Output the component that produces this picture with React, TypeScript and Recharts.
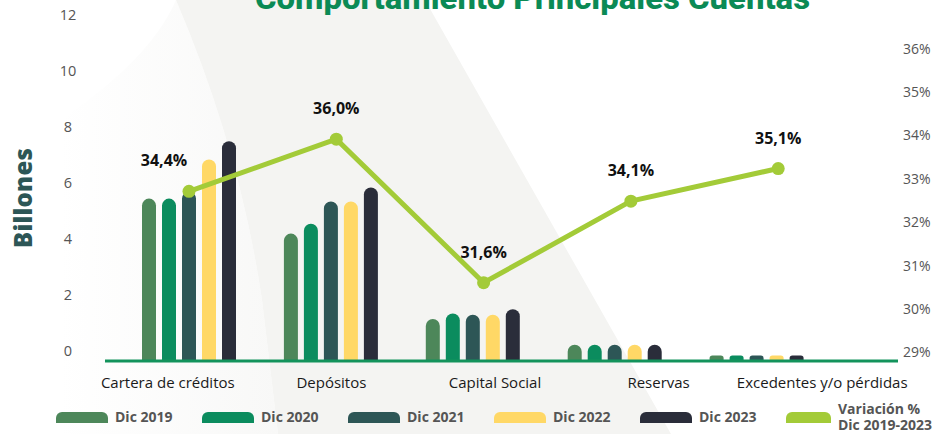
import React from "react";
import { ComposedChart, Bar, Line, XAxis, YAxis, ReferenceLine } from "recharts";

// valores en billones
const categories = ["Cartera de créditos", "Depósitos", "Capital Social", "Reservas", "Excedentes y/o pérdidas"];
const dic2019 = [5.8, 4.55, 1.5, 0.58, 0.2];
const dic2020 = [5.8, 4.9, 1.7, 0.58, 0.2];
const dic2021 = [6.05, 5.7, 1.65, 0.58, 0.2];
const dic2022 = [7.2, 5.7, 1.65, 0.58, 0.2];
const dic2023 = [7.85, 6.2, 1.85, 0.58, 0.2];
const variacion = [34.4, 36.0, 31.6, 34.1, 35.1];
const leftTicks = [0, 2, 4, 6, 8, 10, 12];
const rightTicks = [29, 30, 31, 32, 33, 34, 35, 36];

const SERIES = [
  { key: "d2019", name: "Dic 2019", color: "#4d875a", values: dic2019 },
  { key: "d2020", name: "Dic 2020", color: "#0b8c5e", values: dic2020 },
  { key: "d2021", name: "Dic 2021", color: "#2d5656", values: dic2021 },
  { key: "d2022", name: "Dic 2022", color: "#ffd866", values: dic2022 },
  { key: "d2023", name: "Dic 2023", color: "#2a2d3a", values: dic2023 },
];
const LINE_COLOR = "#a3cb38";
const FONT = "'Open Sans', 'Noto Sans', sans-serif";

const data = categories.map((name, i) => {
  const row: Record<string, string | number> = { name, variacion: variacion[i] };
  SERIES.forEach((s) => (row[s.key] = s.values[i]));
  return row;
});

const LeftTick = (props: any) => (
  <text x={68} y={props.y - 11} textAnchor="middle" dominantBaseline="central" fontSize={14.5} fill="#555" fontFamily={FONT}>
    {props.payload.value}
  </text>
);

const RightTick = (props: any) => (
  <text x={903} y={props.y} dominantBaseline="central" fontSize={14} fill="#555" fontFamily={FONT}>
    {props.payload.value}%
  </text>
);

const CatTick = (props: any) => (
  <text x={props.x} y={382} textAnchor="middle" dominantBaseline="central" fontSize={15} fill="#1a1a1a" fontFamily={FONT}>
    {props.payload.value}
  </text>
);

const BillonesLabel = (props: any) => {
  const vb = props.viewBox;
  const cy = vb ? vb.y + vb.height / 2 + 5 : 198;
  return (
    <text
      x={22}
      y={cy}
      transform={`rotate(-90, 22, ${cy})`}
      textAnchor="middle"
      dominantBaseline="central"
      fontSize={24}
      fontWeight={800}
      fill="#2d5656"
      fontFamily={FONT}
      textLength={100}
    >
      Billones
    </text>
  );
};

const renderVarLabel = (props: any) => {
  const { x, y, value, index } = props;
  // la primera etiqueta va corrida a la izquierda para no tapar las barras
  const dx = index === 0 ? -25 : 0;
  return (
    <text
      key={`lbl-${index}`}
      x={x + dx}
      y={y - 31}
      textAnchor="middle"
      dominantBaseline="central"
      fontSize={16}
      fontWeight={700}
      fill="#111"
      fontFamily={FONT}
    >
      {`${Number(value).toFixed(1).replace(".", ",")}%`}
    </text>
  );
};

const legendItems = [
  ...SERIES.map((s) => ({ name: s.name, color: s.color })),
  { name: "Variación %\nDic 2019-2023", color: LINE_COLOR },
];

export default function App() {
  return (
    <div style={{ position: "absolute", left: 0, top: 0, width: 948, height: 434, background: "#fff", overflow: "hidden" }}>
      <svg width={948} height={434} style={{ position: "absolute", left: 0, top: 0 }}>
        <defs>
          <linearGradient id="leftFade" x1="0" y1="0" x2="1" y2="0">
            <stop offset="0%" stopColor="#ffffff" />
            <stop offset="100%" stopColor="#f8f8f7" />
          </linearGradient>
        </defs>
        <path d="M60,434 L60,120 Q150,60 176,0 Q240,150 262,300 L278,434 Z" fill="url(#leftFade)" />
        <path d="M176,0 Q240,150 262,300 L278,434 L671,434 L425,0 Z" fill="#f4f4f2" />
        <text
          x={255}
          y={9}
          textLength={555}
          lengthAdjust="spacingAndGlyphs"
          fontSize={32}
          fontWeight={800}
          fill="#0b8a55"
          fontFamily="Roboto, sans-serif"
        >
          Comportamiento Principales Cuentas
        </text>
      </svg>

      <div style={{ position: "absolute", left: 0, top: 0 }}>
        <ComposedChart width={948} height={434} data={data} margin={{ top: 25, right: 0, bottom: 43, left: 0 }} barGap={6}>
          <XAxis
            xAxisId="lbl"
            dataKey="name"
            height={30}
            interval={0}
            padding={{ left: -19, right: -6 }}
            axisLine={false}
            tickLine={false}
            tick={<CatTick />}
          />
          <XAxis xAxisId="bars" dataKey="name" hide height={0} padding={{ left: 13, right: 70.5 }} />
          <XAxis xAxisId="line" dataKey="name" hide height={0} padding={{ left: 10.35, right: 46.15 }} />
          <YAxis
            yAxisId="left"
            orientation="left"
            width={105}
            type="number"
            domain={[0, 12]}
            ticks={leftTicks}
            allowDataOverflow
            axisLine={false}
            tickLine={false}
            tick={<LeftTick />}
            label={<BillonesLabel />}
          />
          <YAxis
            yAxisId="right"
            orientation="right"
            width={50}
            type="number"
            domain={[28.79, 36.53]}
            ticks={rightTicks}
            allowDataOverflow
            axisLine={false}
            tickLine={false}
            tick={<RightTick />}
          />
          <YAxis yAxisId="line" hide type="number" domain={[29.2, 39.5]} allowDataOverflow />
          {SERIES.map((s) => (
            <Bar
              key={s.key}
              dataKey={s.key}
              name={s.name}
              xAxisId="bars"
              yAxisId="left"
              fill={s.color}
              barSize={14}
              radius={[7, 7, 0, 0]}
              isAnimationActive={false}
            />
          ))}
          <ReferenceLine xAxisId="bars" yAxisId="left" y={0} stroke="#13935c" strokeWidth={3} />
          <Line
            xAxisId="line"
            yAxisId="line"
            type="linear"
            dataKey="variacion"
            stroke={LINE_COLOR}
            strokeWidth={5}
            dot={{ r: 6.5, fill: LINE_COLOR, stroke: LINE_COLOR, strokeWidth: 0 }}
            activeDot={false}
            label={renderVarLabel}
            isAnimationActive={false}
          />
        </ComposedChart>
      </div>

      <div style={{ position: "absolute", left: 56, top: 401, display: "flex", fontFamily: FONT }}>
        {legendItems.map((it) => (
          <div key={it.name} style={{ width: 146, height: 32, display: "flex", alignItems: "center" }}>
            <div style={{ width: 52, height: 11, background: it.color, borderRadius: "6px 6px 0 0", marginRight: 7 }} />
            <span style={{ fontSize: 14, fontWeight: 700, color: "#555", whiteSpace: "pre", lineHeight: "16px" }}>{it.name}</span>
          </div>
        ))}
      </div>
    </div>
  );
}
